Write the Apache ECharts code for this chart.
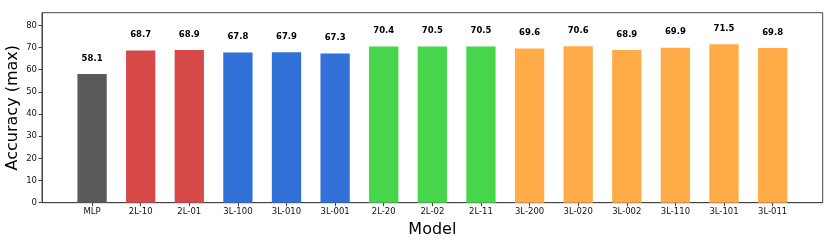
<!DOCTYPE html>
<html>
<head>
<meta charset="utf-8">
<script src="https://cdn.jsdelivr.net/npm/echarts@6/dist/echarts.min.js"></script>
<style>html,body{margin:0;padding:0;background:#fff}#c{width:830px;height:249px}</style>
</head>
<body>
<div id="c"></div>
<script>
const categories = ['MLP','2L-10','2L-01','3L-100','3L-010','3L-001','2L-20','2L-02','2L-11','3L-200','3L-020','3L-002','3L-110','3L-101','3L-011'];
const values = [58.1,68.7,68.9,67.8,67.9,67.3,70.4,70.5,70.5,69.6,70.6,68.9,69.9,71.5,69.8];
const groups = ['mlp','2L','2L','3L','3L','3L','2L2','2L2','2L2','3L2','3L2','3L2','3L2','3L2','3L2'];
const groupColors = {mlp:'#5a5a5a','2L':'#d8494a','3L':'#3171d7','2L2':'#47d64b','3L2':'#ffab48'};
const yTicks = [0,10,20,30,40,50,60,70,80];
const xTicks = categories.map((c,i)=>i);

const chart = echarts.init(document.getElementById('c'), null, {renderer:'canvas'});
const font = 'DejaVu Sans';
chart.setOption({
  animation:false,
  grid:{left:42,right:7.3,top:12.7,bottom:46.3,containLabel:false,outerBoundsMode:'none',show:true,borderColor:'#444',borderWidth:1,backgroundColor:'transparent'},
  xAxis:{
    type:'value', min:-1.03, max:15.03,
    name:'Model', nameLocation:'middle', nameGap:17,
    nameTextStyle:{fontFamily:font,fontSize:16,color:'#000'},
    axisLine:{show:true,onZero:false,lineStyle:{color:'#444'}},
    axisTick:{show:true,length:3.5,lineStyle:{color:'#444'},customValues:xTicks},
    axisLabel:{fontFamily:font,fontSize:8.5,color:'#111',margin:5,customValues:xTicks,formatter:v=>categories[Math.round(v)]||''},
    splitLine:{show:false}
  },
  yAxis:{
    type:'value', min:0, max:85.7,
    name:'Accuracy (max)', nameLocation:'middle', nameGap:21, nameMoveOverlap:false,
    nameTextStyle:{fontFamily:font,fontSize:16,color:'#000'},
    axisLine:{show:true,onZero:false,lineStyle:{color:'#444'}},
    axisTick:{show:true,length:3.5,lineStyle:{color:'#444'},customValues:yTicks},
    axisLabel:{fontFamily:font,fontSize:8.5,color:'#111',margin:5,customValues:yTicks},
    splitLine:{show:false}
  },
  series:[{
    type:'bar',
    barWidth:29.3,
    data:values.map((v,i)=>({value:[i,v],itemStyle:{color:groupColors[groups[i]]}})),
    label:{show:true,position:'top',distance:11,fontFamily:font,fontSize:8.5,fontWeight:'bold',color:'#000',formatter:p=>p.value[1].toFixed(1)}
  }]
});
</script>
</body>
</html>
